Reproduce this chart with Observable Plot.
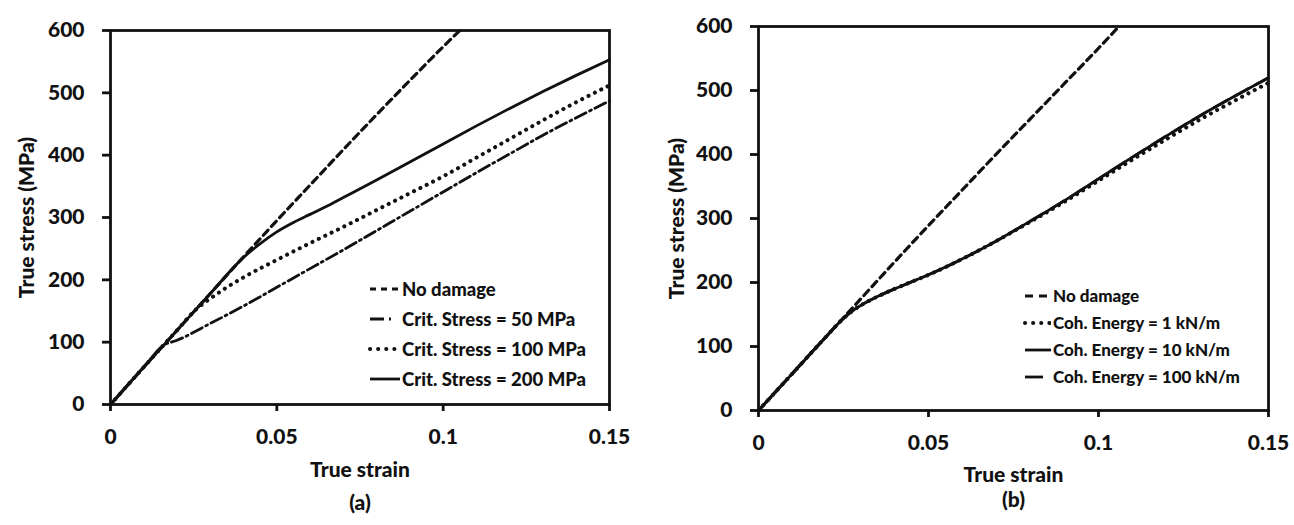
<!DOCTYPE html>
<html>
<head>
<meta charset="utf-8">
<script src="https://cdn.jsdelivr.net/npm/d3@7"></script>
<script src="https://cdn.jsdelivr.net/npm/@observablehq/plot@0.6"></script>
<style>
  html, body { margin: 0; padding: 0; background: #fff; }
  #wrap { position: relative; width: 1294px; height: 525px; overflow: hidden; font-family: Lato, "Open Sans", sans-serif; color: #111; }
  .panel { position: absolute; top: 0; }
  .legend { position: absolute; font-weight: 900; line-height: 1; }
  .legend .row { display: flex; align-items: center; white-space: nowrap; }
  .legend svg { flex: none; margin-right: 2px; }
</style>
</head>
<body>
<div id="wrap"></div>
<script>
// ---------- shared axis values ----------
const xTicks = [0, 0.05, 0.1, 0.15];
const xTickLabels = ["0", "0.05", "0.1", "0.15"];
const yTicks = [0, 100, 200, 300, 400, 500, 600];
const xLabel = "True strain";
const yLabel = "True stress (MPa)";

// ---------- panel (a) ----------
const aNoDamageStrain = [0, 0.01, 0.02, 0.03, 0.04, 0.05, 0.06, 0.07, 0.08, 0.09, 0.1, 0.105];
const aNoDamageStress = [0, 60, 119, 178, 237, 295, 352, 409, 465, 520, 574, 600];

const aCrit50Strain = [0, 0.01, 0.016, 0.02, 0.03, 0.04, 0.05, 0.06, 0.07, 0.08, 0.09, 0.1, 0.11, 0.12, 0.13, 0.14, 0.15];
const aCrit50Stress = [0, 60, 95, 103, 130, 158, 188, 218, 248, 279, 310, 341, 372, 402, 432, 460, 487];

const aCrit100Strain = [0, 0.01, 0.02, 0.026, 0.03, 0.035, 0.04, 0.05, 0.06, 0.07, 0.08, 0.09, 0.1, 0.11, 0.12, 0.13, 0.14, 0.15];
const aCrit100Stress = [0, 60, 119, 154, 170, 188, 204, 232, 259, 285, 312, 339, 366, 396, 426, 456, 485, 512];

const aCrit200Strain = [0, 0.01, 0.02, 0.03, 0.04, 0.045, 0.05, 0.055, 0.06, 0.065, 0.07, 0.08, 0.09, 0.1, 0.11, 0.12, 0.13, 0.14, 0.15];
const aCrit200Stress = [0, 60, 119, 178, 236, 258, 277, 292, 305, 318, 332, 360, 389, 418, 447, 475, 502, 528, 553];

const aSeriesNames = ["No damage", "Crit. Stress = 50 MPa", "Crit. Stress = 100 MPa", "Crit. Stress = 200 MPa"];

// ---------- panel (b) ----------
const bNoDamageStrain = [0, 0.01, 0.02, 0.03, 0.04, 0.05, 0.06, 0.07, 0.08, 0.09, 0.1, 0.106];
const bNoDamageStress = [0, 58, 116, 174, 232, 289, 345, 401, 456, 511, 566, 600];

const bCoh1Strain = [0, 0.01, 0.02, 0.025, 0.028, 0.031, 0.035, 0.04, 0.045, 0.05, 0.06, 0.07, 0.08, 0.09, 0.1, 0.11, 0.12, 0.13, 0.14, 0.15];
const bCoh1Stress = [0, 58, 116, 144, 157, 167, 178, 190, 201, 212, 237, 265, 295, 326, 359, 392, 424, 455, 484, 512];

const bCoh10Strain = [0, 0.01, 0.02, 0.025, 0.028, 0.031, 0.035, 0.04, 0.045, 0.05, 0.06, 0.07, 0.08, 0.09, 0.1, 0.11, 0.12, 0.13, 0.14, 0.15];
const bCoh10Stress = [0, 58, 116, 144, 157, 167, 178, 190, 201, 212, 237, 265, 296, 328, 362, 396, 429, 461, 491, 520];

const bCoh100Strain = [0, 0.01, 0.02, 0.025, 0.028, 0.031, 0.035, 0.04, 0.045, 0.05, 0.06, 0.07, 0.08, 0.09, 0.1, 0.11, 0.12, 0.13, 0.14, 0.15];
const bCoh100Stress = [0, 58, 116, 144, 157, 167, 178, 190, 201, 212, 237, 265, 296, 328, 362, 396, 429, 461, 491, 520];

const bSeriesNames = ["No damage", "Coh. Energy = 1 kN/m", "Coh. Energy = 10 kN/m", "Coh. Energy = 100 kN/m"];

// ---------- styles ----------
const INK = "#111";
const styleDashed   = {stroke: INK, strokeWidth: 3.2, strokeDasharray: "7,5"};
const styleDashDot  = {stroke: INK, strokeWidth: 2.8, strokeDasharray: "12,4,2,4"};
const styleDotted   = {stroke: INK, strokeWidth: 4, strokeDasharray: "0.1,7", strokeLinecap: "round"};
const styleSolid    = {stroke: INK, strokeWidth: 2.8};
const styleLongDash = {stroke: INK, strokeWidth: 2.8, strokeDasharray: "16,8"};

function rows(strain, stress) {
  return strain.map((s, i) => ({strain: s, stress: stress[i]}));
}

function makePanel({width, marginLeft, marginRight, marginTop, marginBottom, series, tag, yLabelDx, xLabelDy, tagDy}) {
  return Plot.plot({
    width, height: 525,
    marginLeft, marginRight, marginTop, marginBottom,
    style: {fontFamily: "Lato, 'Open Sans', sans-serif", fontWeight: 900, color: INK, background: "transparent", overflow: "visible"},
    x: {domain: [0, 0.15]},
    y: {domain: [0, 600]},
    marks: [
      ...series.map(s => Plot.line(rows(s.strain, s.stress), {x: "strain", y: "stress", curve: "monotone-x", ...s.style})),
      Plot.axisX({ticks: xTicks, tickFormat: d => xTickLabels[xTicks.indexOf(d)], tickSize: 7, tickPadding: 18, fontSize: 21, fontWeight: 900, stroke: INK, strokeWidth: 2.8, label: null}),
      Plot.axisY({ticks: yTicks, tickSize: 8, tickPadding: 18, fontSize: 21, fontWeight: 900, stroke: INK, strokeWidth: 2.8, label: null}),
      Plot.frame({stroke: INK, strokeWidth: 2.8}),
      Plot.text([yLabel], {text: d => d, frameAnchor: "left", dx: yLabelDx, rotate: -90, fontSize: 21, fontWeight: 900, fill: INK, lineAnchor: "middle", textAnchor: "middle"}),
      Plot.text([xLabel], {text: d => d, frameAnchor: "bottom", dy: xLabelDy, fontSize: 21, fontWeight: 900, fill: INK, lineAnchor: "middle"}),
      Plot.text([tag], {text: d => d, frameAnchor: "bottom", dy: tagDy, fontSize: 21, fontWeight: 900, fill: INK, lineAnchor: "middle"})
    ]
  });
}

const wrap = document.getElementById("wrap");

const seriesA = [
  {strain: aNoDamageStrain, stress: aNoDamageStress, style: styleDashed},
  {strain: aCrit50Strain, stress: aCrit50Stress, style: styleDashDot},
  {strain: aCrit100Strain, stress: aCrit100Stress, style: styleDotted},
  {strain: aCrit200Strain, stress: aCrit200Stress, style: styleSolid}
];
const seriesB = [
  {strain: bNoDamageStrain, stress: bNoDamageStress, style: styleDashed},
  {strain: bCoh1Strain, stress: bCoh1Stress, style: styleDotted},
  {strain: bCoh10Strain, stress: bCoh10Stress, style: styleSolid},
  {strain: bCoh100Strain, stress: bCoh100Stress, style: styleLongDash}
];

const panelA = makePanel({width: 647, marginLeft: 110, marginRight: 38, marginTop: 30, marginBottom: 121,
  series: seriesA, tag: "(a)", yLabelDx: -83, xLabelDy: 66, tagDy: 99});
panelA.classList.add("panel");
panelA.style.left = "0px";
wrap.appendChild(panelA);

const panelB = makePanel({width: 647, marginLeft: 111, marginRight: 26, marginTop: 26, marginBottom: 115,
  series: seriesB, tag: "(b)", yLabelDx: -81, xLabelDy: 65, tagDy: 90});
panelB.classList.add("panel");
panelB.style.left = "647px";
wrap.appendChild(panelB);

// ---------- legends ----------
const legendSamples = {
  a: [
    {...styleDashed, strokeDasharray: "6,5"},
    {...styleDashDot, strokeDasharray: "14,5,2,20"},
    {...styleDotted, strokeDasharray: "0.1,8"},
    styleSolid
  ],
  b: [
    {...styleDashed, strokeDasharray: "8,6"},
    {...styleDotted, strokeDasharray: "0.1,8"},
    styleSolid,
    {...styleLongDash, strokeDasharray: "18,30"}
  ]
};

function makeLegend(names, samples, left, top, gap, sampleW, fontSize) {
  const div = document.createElement("div");
  div.className = "legend";
  div.style.left = left + "px";
  div.style.top = top + "px";
  div.style.fontSize = fontSize + "px";
  names.forEach((name, i) => {
    const row = document.createElement("div");
    row.className = "row";
    row.style.height = gap + "px";
    const s = samples[i];
    const svg = d3.create("svg").attr("width", sampleW).attr("height", 12);
    svg.append("line")
      .attr("x1", 2).attr("x2", sampleW).attr("y1", 6).attr("y2", 6)
      .attr("stroke", s.stroke).attr("stroke-width", s.strokeWidth)
      .attr("stroke-dasharray", s.strokeDasharray || null)
      .attr("stroke-linecap", s.strokeLinecap || null);
    row.appendChild(svg.node());
    const span = document.createElement("span");
    span.textContent = name;
    row.appendChild(span);
    div.appendChild(row);
  });
  wrap.appendChild(div);
}

makeLegend(aSeriesNames, legendSamples.a, 368, 274, 30, 32, 18.5);
makeLegend(bSeriesNames, legendSamples.b, 1023, 282, 27, 28, 17);
</script>
</body>
</html>
